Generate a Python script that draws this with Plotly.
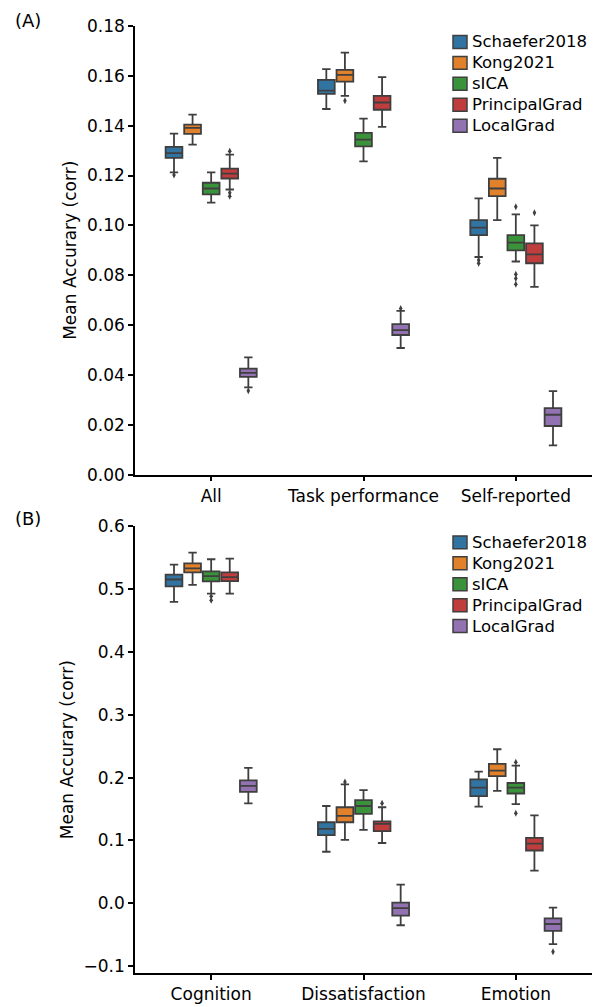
import plotly.graph_objects as go

# ---------------- data ----------------
series = ["Schaefer2018", "Kong2021", "sICA", "PrincipalGrad", "LocalGrad"]
colors = ["#3274a1", "#e1812c", "#3a923a", "#c03d3e", "#9372b2"]

cats_a = ["All", "Task performance", "Self-reported"]
cats_b = ["Cognition", "Dissatisfaction", "Emotion"]

# panel A stats per series: lists over categories [All, Task performance, Self-reported]
a_low = {
    "Schaefer2018": [0.1213, 0.1467, 0.0873],
    "Kong2021": [0.1324, 0.1520, 0.1021],
    "sICA": [0.1091, 0.1257, 0.0855],
    "PrincipalGrad": [0.1144, 0.1395, 0.0753],
    "LocalGrad": [0.0350, 0.0508, 0.0117],
}
a_q1 = {
    "Schaefer2018": [0.1271, 0.1528, 0.0961],
    "Kong2021": [0.1367, 0.1577, 0.1117],
    "sICA": [0.1124, 0.1317, 0.0900],
    "PrincipalGrad": [0.1188, 0.1464, 0.0848],
    "LocalGrad": [0.0392, 0.0560, 0.0195],
}
a_med = {
    "Schaefer2018": [0.1290, 0.1541, 0.0991],
    "Kong2021": [0.1391, 0.1604, 0.1148],
    "sICA": [0.1148, 0.1344, 0.0931],
    "PrincipalGrad": [0.1208, 0.1493, 0.0884],
    "LocalGrad": [0.0408, 0.0580, 0.0240],
}
a_q3 = {
    "Schaefer2018": [0.1315, 0.1584, 0.1021],
    "Kong2021": [0.1404, 0.1624, 0.1187],
    "sICA": [0.1171, 0.1371, 0.0961],
    "PrincipalGrad": [0.1228, 0.1520, 0.0928],
    "LocalGrad": [0.0425, 0.0604, 0.0267],
}
a_high = {
    "Schaefer2018": [0.1368, 0.1627, 0.1108],
    "Kong2021": [0.1444, 0.1693, 0.1271],
    "sICA": [0.1213, 0.1428, 0.1044],
    "PrincipalGrad": [0.1284, 0.1595, 0.1000],
    "LocalGrad": [0.0470, 0.0657, 0.0335],
}
# outliers: (category index, value)
a_out = {
    "Schaefer2018": [(0, 0.1202), (2, 0.0861), (2, 0.0848)],
    "Kong2021": [(1, 0.1500)],
    "sICA": [(2, 0.1075), (2, 0.0804), (2, 0.0787), (2, 0.0764)],
    "PrincipalGrad": [(0, 0.1297), (0, 0.1131), (0, 0.1117), (2, 0.1051)],
    "LocalGrad": [(0, 0.0336), (1, 0.0666)],
}

# panel B stats: categories [Cognition, Dissatisfaction, Emotion]
b_low = {
    "Schaefer2018": [0.480, 0.082, 0.154],
    "Kong2021": [0.507, 0.101, 0.179],
    "sICA": [0.493, 0.117, 0.158],
    "PrincipalGrad": [0.493, 0.096, 0.052],
    "LocalGrad": [0.159, -0.035, -0.065],
}
b_q1 = {
    "Schaefer2018": [0.5045, 0.1086, 0.1706],
    "Kong2021": [0.5269, 0.1290, 0.2025],
    "sICA": [0.5124, 0.1424, 0.1748],
    "PrincipalGrad": [0.5128, 0.1149, 0.0840],
    "LocalGrad": [0.1775, -0.0197, -0.0440],
}
b_med = {
    "Schaefer2018": [0.5155, 0.1185, 0.1842],
    "Kong2021": [0.5332, 0.1393, 0.2113],
    "sICA": [0.5207, 0.1549, 0.1842],
    "PrincipalGrad": [0.5191, 0.1263, 0.0950],
    "LocalGrad": [0.1868, -0.0078, -0.0330],
}
b_q3 = {
    "Schaefer2018": [0.5233, 0.1290, 0.1972],
    "Kong2021": [0.5410, 0.1529, 0.2218],
    "sICA": [0.5285, 0.1643, 0.1915],
    "PrincipalGrad": [0.5269, 0.1305, 0.1040],
    "LocalGrad": [0.1956, 0.0011, -0.0240],
}
b_high = {
    "Schaefer2018": [0.539, 0.1549, 0.2097],
    "Kong2021": [0.5582, 0.1894, 0.2452],
    "sICA": [0.5477, 0.1800, 0.2191],
    "PrincipalGrad": [0.5488, 0.1529, 0.1400],
    "LocalGrad": [0.2155, 0.0297, -0.0070],
}
b_out = {
    "Schaefer2018": [],
    "Kong2021": [(1, 0.1930)],
    "sICA": [(0, 0.4889), (0, 0.4826), (2, 0.2244), (2, 0.1435)],
    "PrincipalGrad": [(1, 0.1592)],
    "LocalGrad": [(2, -0.0770)],
}

yticks_a = [0.00, 0.02, 0.04, 0.06, 0.08, 0.10, 0.12, 0.14, 0.16, 0.18]
yticks_b = [-0.1, 0.0, 0.1, 0.2, 0.3, 0.4, 0.5, 0.6]

# ---------------- figure ----------------
FONT = "DejaVu Sans"
EDGE = "#3f3f3f"
SLOT = 0.122
BOXW = 0.11
TICK_SIZE = 17
LEG_SIZE = 16.5

W, H = 595, 1007
ML, MR, MT, MB = 135, 3, 26, 31
PW = W - ML - MR
PH = H - MT - MB


def px_x(px):
    return (px - ML) / PW


def px_y(py):
    return (H - MB - py) / PH


fig = go.Figure()
shapes = []
annotations = []


def add_panel(xa, ya, low, q1, med, q3, high, outs, legend_top):
    for h, s in enumerate(series):
        off = (h - 2) * SLOT
        xs = [c + off for c in range(3)]
        fig.add_trace(go.Box(
            x=xs, q1=q1[s], median=med[s], q3=q3[s],
            lowerfence=low[s], upperfence=high[s],
            width=BOXW, whiskerwidth=0.5, name=s,
            fillcolor=colors[h], line=dict(color=EDGE, width=1.8),
            boxpoints=False, showlegend=False, hoverinfo="skip",
            xaxis=xa, yaxis=ya,
        ))
        if outs[s]:
            fig.add_trace(go.Scatter(
                x=[c + off for c, v in outs[s]], y=[v for c, v in outs[s]],
                mode="markers", name=s,
                marker=dict(symbol="diamond-tall", size=5, color=EDGE),
                showlegend=False, hoverinfo="skip", xaxis=xa, yaxis=ya,
            ))
        # legend entry: patch + label
        ry = legend_top + 21 * h
        shapes.append(dict(
            type="rect", xref="paper", yref="paper",
            x0=px_x(453), x1=px_x(467), y0=px_y(ry + 6.5), y1=px_y(ry - 6.5),
            fillcolor=colors[h], line=dict(color=EDGE, width=1.5), layer="above",
        ))
        annotations.append(dict(
            text=s, xref="paper", yref="paper", x=px_x(470), y=px_y(ry),
            xanchor="left", yanchor="middle", showarrow=False,
            font=dict(family=FONT, size=LEG_SIZE, color="black"),
        ))


add_panel("x", "y", a_low, a_q1, a_med, a_q3, a_high, a_out, 42)
add_panel("x2", "y2", b_low, b_q1, b_med, b_q3, b_high, b_out, 544)

annotations.append(dict(text="(A)", xref="paper", yref="paper",
                        x=px_x(28), y=px_y(20), xanchor="center", yanchor="middle",
                        showarrow=False, font=dict(family=FONT, size=18, color="black")))
annotations.append(dict(text="(B)", xref="paper", yref="paper",
                        x=px_x(28), y=px_y(520), xanchor="center", yanchor="middle",
                        showarrow=False, font=dict(family=FONT, size=18, color="black")))

axis_common = dict(showline=True, linecolor="black", linewidth=1.5,
                   ticks="outside", ticklen=5, tickwidth=1.5, tickcolor="black",
                   showgrid=False, zeroline=False,
                   tickfont=dict(family=FONT, size=TICK_SIZE, color="black"))

fig.update_layout(
    width=W, height=H,
    margin=dict(l=ML, r=MR, t=MT, b=MB),
    plot_bgcolor="white", paper_bgcolor="white",
    showlegend=False,
    xaxis=dict(domain=[0, 1], range=[-0.5, 2.5], anchor="y",
               tickvals=[0, 1, 2], ticktext=cats_a, **axis_common),
    yaxis=dict(domain=[px_y(476), 1], range=[0, 0.18], anchor="x",
               tickvals=yticks_a, tickformat=".2f",
               title=dict(text="Mean Accurary (corr)", standoff=6,
                          font=dict(family=FONT, size=TICK_SIZE, color="black")),
               **axis_common),
    xaxis2=dict(domain=[0, 1], range=[-0.5, 2.5], anchor="y2",
                tickvals=[0, 1, 2], ticktext=cats_b, **axis_common),
    yaxis2=dict(domain=[0, px_y(528)], range=[-0.111, 0.6], anchor="x2",
                tickvals=yticks_b, tickformat=".1f",
                title=dict(text="Mean Accurary (corr)", standoff=6,
                           font=dict(family=FONT, size=TICK_SIZE, color="black")),
                **axis_common),
    shapes=shapes,
    annotations=annotations,
)

fig.write_html("out.html")
